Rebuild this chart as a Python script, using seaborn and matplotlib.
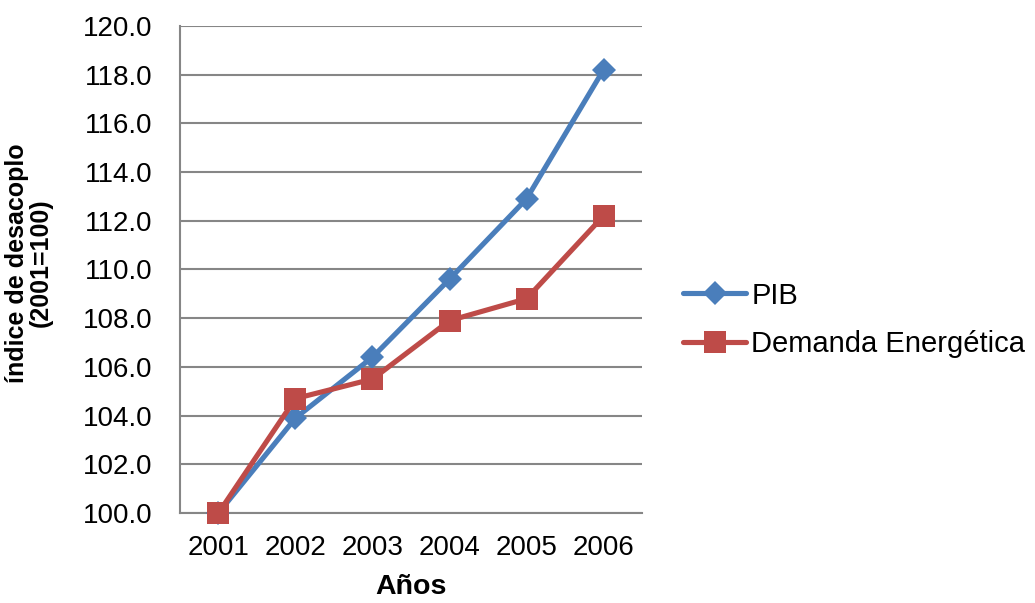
import matplotlib
matplotlib.use("Agg")
import matplotlib.pyplot as plt
from matplotlib.ticker import FixedLocator, MultipleLocator
import seaborn as sns
import pandas as pd

years = ["2001", "2002", "2003", "2004", "2005", "2006"]
pib = [100.0, 103.9, 106.4, 109.6, 112.9, 118.2]
demanda = [100.0, 104.7, 105.5, 107.9, 108.8, 112.2]

sns.set_style("white")
plt.rcParams["font.family"] = ["Liberation Sans", "DejaVu Sans"]
plt.rcParams["text.color"] = "black"
plt.rcParams["axes.labelcolor"] = "black"
plt.rcParams["xtick.color"] = "black"
plt.rcParams["ytick.color"] = "black"

pos = list(range(len(years)))
df = pd.DataFrame({"pos": pos, "PIB": pib, "Demanda Energética": demanda})

fig = plt.figure(figsize=(10.35, 6.03), dpi=100)
ax = fig.add_axes([0.1739, 0.1493, 0.4464, 0.8076])

# two calls so each series gets its own marker size
sns.lineplot(data=df, x="pos", y="PIB", color="#4A7EBB", marker="D",
             markersize=12.5, markeredgewidth=0, linewidth=3.7,
             label="PIB", ax=ax, clip_on=False, zorder=4)
sns.lineplot(data=df, x="pos", y="Demanda Energética", color="#BE4B48", marker="s",
             markersize=16, markeredgewidth=0, linewidth=3.7,
             label="Demanda Energética", ax=ax, clip_on=False, zorder=5)

ax.set_xlim(-0.5, len(years) - 0.5)
ax.yaxis.set_major_locator(MultipleLocator(2))
ax.set_ylim(100, 120)
ax.set_yticks(ax.get_yticks())
ax.set_yticklabels([f"{v:.1f}" for v in ax.get_yticks()])
ax.set_ylim(100, 120)
ax.set_xticks(pos)
ax.set_xticklabels(years)
ax.xaxis.set_minor_locator(FixedLocator([i - 0.5 for i in range(len(years) + 1)]))

ax.grid(axis="y", color="#868686", linewidth=1.5)
ax.set_axisbelow(True)
for side in ["top", "right"]:
    ax.spines[side].set_visible(False)
for side in ["left", "bottom"]:
    ax.spines[side].set_color("#868686")
    ax.spines[side].set_linewidth(1.5)

ax.tick_params(axis="x", which="major", length=0, labelsize=20, pad=16)
ax.tick_params(axis="x", which="minor", length=6, width=1.5, color="#868686", direction="out")
ax.tick_params(axis="y", which="major", length=6, width=1.5, color="#868686",
               direction="out", labelsize=20, pad=14)

ax.set_xlabel("Años", fontsize=20.5, fontweight="bold", labelpad=9)
ax.set_ylabel("índice de desacoplo\n(2001=100)", fontsize=18, fontweight="bold",
              linespacing=1.0)
ax.yaxis.set_label_coords(-0.275, 0.513)

leg = ax.legend(loc="center left", bbox_to_anchor=(683 / 1035, 1 - 320 / 603),
                bbox_transform=fig.transFigure, frameon=False, fontsize=21,
                handlelength=2.17, handletextpad=0.17, labelspacing=0.72,
                borderpad=0, borderaxespad=0)

fig.savefig("out.png", dpi=100)
